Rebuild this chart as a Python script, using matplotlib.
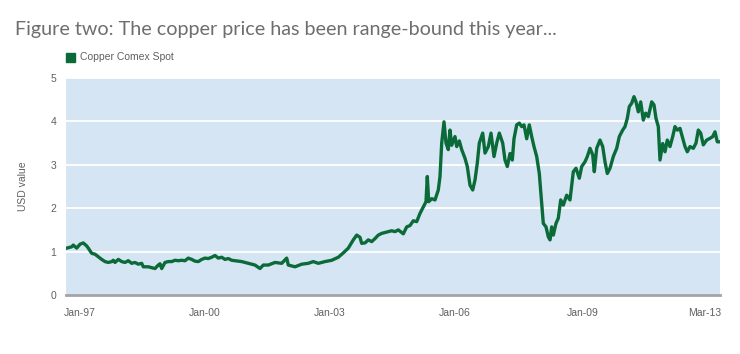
import matplotlib
matplotlib.use("Agg")
import matplotlib.pyplot as plt
from matplotlib.patches import Rectangle

title = "Figure two: The copper price has been range-bound this year..."
series_name = "Copper Comex Spot"
y_label = "USD value"
tick_labels = ["Jan-97", "Jan-00", "Jan-03", "Jan-06", "Jan-09", "Mar-13"]
tick_t = [80, 205, 330, 455, 583, 705]
y_ticks = [0, 1, 2, 3, 4, 5]

# time index (chart units) and price values
t = [66.7, 71.7, 73.3, 76.7, 80, 83.3, 86.7, 88.3, 91.7, 95, 98.3, 101.7, 105, 108.3,
     111.7, 113.3, 115, 118.3, 121.7, 125, 128.3, 131.7, 135, 138.3, 141.7, 143.3, 148.3,
     151.7, 155, 158.3, 160, 161.7, 165, 168.3, 171.7, 175, 178.3, 181.7, 185, 188.3,
     191.7, 195, 198.3, 201.7, 205, 208.3, 211.7, 215, 218.3, 221.7, 225, 228.3, 231.7,
     235, 241.7, 248.3, 255, 260, 263.3, 268.3, 275, 281.7, 286.7, 288.3, 295, 301.7,
     308.3, 313.3, 318.3, 325, 331.7, 338.3, 343.3, 348.3, 353.3, 356.7, 360, 361.7,
     365, 368.3, 371.7, 375, 378.3, 381.7, 385, 388.3, 391.7, 395, 398.3,
     403.3, 406.7, 410, 413.3, 416.7, 420, 423.3, 426, 427.3, 428.7, 431.7, 435, 438.3,
     440, 441.7, 444, 446, 448.3, 450, 451.7, 455, 456.7, 459.3, 461.7, 465, 467.3, 470,
     472.7, 475, 477.3, 479.3, 482.7, 485, 488.3, 491, 494, 496.7, 499.3,
     502.7, 505, 507.3, 510, 512.3, 514, 516.7, 519.3, 521.7, 524, 526.7, 529.3, 531.7,
     534, 536.7, 539.3, 541.7, 543.3, 546, 548.3, 550, 551.7, 553.3, 556, 558.3, 560.7,
     563.3, 566.7, 570, 573.3, 576, 579.3, 581.7, 585, 587.3, 590, 592.7, 594.3, 596.7,
     600, 602.7, 605, 607.3, 610, 613.3, 616.7, 619.3,
     622.7, 625, 627.3, 629.3, 631.7, 634, 636, 638.3, 640.7, 643.3, 645.7, 648.3, 651.7,
     654, 656, 658.3, 660, 662.7, 665, 667.3, 670, 672.7, 675, 677.3, 680, 682.7, 685,
     687.3, 690, 693.3, 696, 698.3, 700.7, 703.3, 706.7, 710, 712.7, 715, 717.3, 720]
price = [1.08, 1.11, 1.15, 1.08, 1.17, 1.20, 1.13, 1.08, 0.96, 0.94, 0.88, 0.82, 0.77, 0.75,
         0.77, 0.80, 0.75, 0.82, 0.77, 0.75, 0.79, 0.73, 0.75, 0.71, 0.73, 0.65, 0.65,
         0.63, 0.61, 0.69, 0.72, 0.61, 0.75, 0.77, 0.77, 0.80, 0.79, 0.80, 0.79, 0.85,
         0.82, 0.78, 0.77, 0.82, 0.85, 0.84, 0.87, 0.91, 0.85, 0.87, 0.82, 0.84, 0.80,
         0.79, 0.77, 0.73, 0.69, 0.61, 0.69, 0.69, 0.75, 0.73, 0.85, 0.69, 0.65, 0.71,
         0.73, 0.77, 0.73, 0.77, 0.80, 0.87, 0.97, 1.08, 1.27, 1.38, 1.33, 1.19,
         1.20, 1.27, 1.23, 1.30, 1.38, 1.42, 1.44, 1.46, 1.48, 1.46, 1.50,
         1.41, 1.57, 1.60, 1.71, 1.69, 1.88, 2.03, 2.15, 2.73, 2.15, 2.22, 2.19, 2.42,
         2.73, 3.50, 3.99, 3.50, 3.35, 3.80, 3.45, 3.65, 3.42, 3.55, 3.35, 3.15, 2.96, 2.53,
         2.42, 2.65, 3.04, 3.50, 3.73, 3.27, 3.42, 3.73, 3.19, 3.50, 3.73,
         3.50, 3.11, 2.96, 3.26, 3.11, 3.60, 3.92, 3.96, 3.88, 3.92, 3.60, 3.92, 3.65,
         3.42, 3.19, 2.80, 2.11, 1.65, 1.57, 1.34, 1.27, 1.57, 1.38, 1.65, 1.77, 2.19,
         2.07, 2.30, 2.19, 2.84, 2.92, 2.69, 2.96, 3.07, 3.19, 3.38, 3.23, 2.84, 3.38,
         3.57, 3.42, 3.07, 2.80, 2.92, 3.19, 3.38, 3.65,
         3.80, 3.88, 4.07, 4.34, 4.42, 4.57, 4.45, 4.22, 4.45, 4.03, 4.19, 4.11, 4.45,
         4.38, 4.07, 3.88, 3.11, 3.49, 3.30, 3.57, 3.42, 3.65, 3.88, 3.80, 3.84, 3.61, 3.42,
         3.30, 3.42, 3.38, 3.50, 3.80, 3.73, 3.46, 3.57, 3.61, 3.65, 3.76, 3.53, 3.53]

line_color = "#0a6b39"
bg_color = "#d5e5f4"
text_color = "#5f6062"

fig = plt.figure(figsize=(7.4, 3.54), dpi=100)
ax = fig.add_axes([66 / 740, 1 - 295 / 354, (720 - 66) / 740, (295 - 78) / 354])
ax.set_facecolor(bg_color)
for v in y_ticks[1:]:
    ax.axhline(v, color="white", lw=1.3, zorder=1)
ax.plot(t, price, color=line_color, lw=2.4, solid_joinstyle="round", zorder=3)
ax.set_xlim(66, 720)
ax.set_ylim(0, 5)
for s in ["top", "right", "left"]:
    ax.spines[s].set_visible(False)
ax.spines["bottom"].set_color("#a3a4a6")
ax.spines["bottom"].set_linewidth(2)
ax.set_yticks(y_ticks)
ax.set_yticklabels([str(v) for v in y_ticks])
ax.set_xticks(tick_t)
ax.set_xticklabels(tick_labels)
ax.tick_params(axis="both", length=0, labelsize=7.5, colors=text_color, labelfontfamily="Liberation Sans")
ax.tick_params(axis="y", pad=7)
ax.tick_params(axis="x", pad=9)
ax.set_ylabel(y_label, fontsize=7.5, color=text_color, family="Liberation Sans", labelpad=16)

fig.text(15 / 740, 1 - 30 / 354, title, fontsize=14.2, color="#6d6e70", family="Lato",
         va="center", ha="left")
fig.patches.append(Rectangle((66 / 740, 1 - 62 / 354), 9 / 740, 9 / 354,
                             transform=fig.transFigure, color=line_color))
fig.text(80 / 740, 1 - 57.5 / 354, series_name, fontsize=7.5, color=text_color,
         family="Liberation Sans", va="center", ha="left")

fig.savefig("out.png", dpi=100)
